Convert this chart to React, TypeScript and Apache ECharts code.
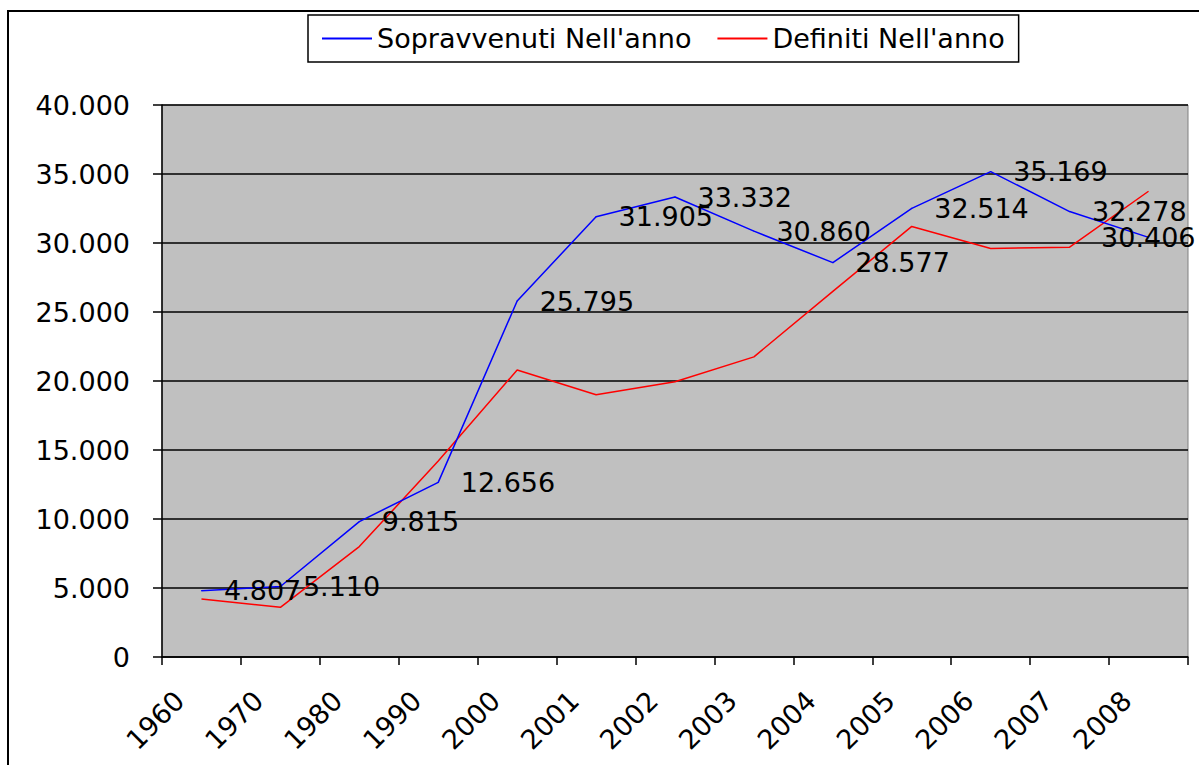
import React, { useEffect, useRef } from "react";
import * as echarts from "echarts";

const categories = ["1960", "1970", "1980", "1990", "2000", "2001", "2002", "2003", "2004", "2005", "2006", "2007", "2008"];
const sopravvenuti = [4807, 5110, 9815, 12656, 25795, 31905, 33332, 30860, 28577, 32514, 35169, 32278, 30406];
const definiti = [4200, 3600, 8000, 14200, 20800, 19000, 19950, 21750, 26500, 31200, 29600, 29700, 33750];
const seriesNames = ["Sopravvenuti Nell'anno", "Definiti Nell'anno"];

const fmt = (v: number) => {
  if (v === 0) return "0";
  const s = String(Math.round(v));
  return s.replace(/\B(?=(\d{3})+(?!\d))/g, ".");
};

const FONT = "DejaVu Sans";

export default function App() {
  const ref = useRef<HTMLDivElement>(null);
  useEffect(() => {
    document.body.style.margin = "0";
    const chart = echarts.init(ref.current!, undefined, { renderer: "svg" });
    const lastIdx = sopravvenuti.length - 1;
    const blueData = sopravvenuti.map((v, i) =>
      i === lastIdx
        ? { value: v, label: { position: "right", distance: 22, offset: [-70, 0] } }
        : v
    );
    chart.setOption({
      animation: false,
      backgroundColor: "#ffffff",
      graphic: [
        {
          type: "rect",
          shape: { x: 8, y: 11, width: 1300, height: 900 },
          style: { fill: "none", stroke: "#000", lineWidth: 2 },
          z: -1,
        },
      ],
      legend: {
        left: 308,
        top: 15,
        padding: [10, 14, 10, 14],
        borderColor: "#000",
        borderWidth: 1.5,
        itemGap: 26,
        itemWidth: 50,
        itemHeight: 2,
        icon: "rect",
        textStyle: { fontFamily: FONT, fontSize: 27, color: "#000" },
        data: seriesNames,
      },
      grid: {
        left: 162,
        right: 11,
        top: 105,
        bottom: 108,
        show: true,
        backgroundColor: "#C0C0C0",
        borderColor: "#808080",
        borderWidth: 1,
      },
      xAxis: {
        type: "category",
        data: categories,
        boundaryGap: true,
        axisLine: { lineStyle: { color: "#000", width: 1.5 } },
        axisTick: { show: true, length: 8, lineStyle: { color: "#000", width: 1.5 } },
        axisLabel: {
          interval: 0,
          rotate: 45,
          margin: 17,
          padding: [0, 31, 0, 0],
          fontFamily: FONT,
          fontSize: 27,
          color: "#000",
        },
      },
      yAxis: {
        type: "value",
        min: 0,
        max: 40000,
        interval: 5000,
        axisLine: { show: true, lineStyle: { color: "#000", width: 1.5 } },
        axisTick: { show: true, length: 9, lineStyle: { color: "#000", width: 1.5 } },
        axisLabel: {
          margin: 32,
          fontFamily: FONT,
          fontSize: 27,
          color: "#000",
          formatter: (v: number) => fmt(v),
        },
        splitLine: { show: true, lineStyle: { color: "#000", width: 1.5 } },
      },
      series: [
        {
          name: seriesNames[0],
          type: "line",
          data: blueData,
          symbol: "circle",
          symbolSize: 1,
          color: "#0000FF",
          lineStyle: { color: "#0000FF", width: 1.5 },
          itemStyle: { color: "#0000FF" },
          label: {
            show: true,
            position: "right",
            distance: 22,
            fontFamily: FONT,
            fontSize: 27,
            color: "#000",
            formatter: (p: any) => fmt(p.value),
          },
          z: 3,
        },
        {
          name: seriesNames[1],
          type: "line",
          data: definiti,
          symbol: "none",
          color: "#FF0000",
          lineStyle: { color: "#FF0000", width: 1.5 },
          itemStyle: { color: "#FF0000" },
          z: 2,
        },
      ],
    });
    return () => chart.dispose();
  }, []);
  return <div ref={ref} style={{ width: 1199, height: 765 }} />;
}
